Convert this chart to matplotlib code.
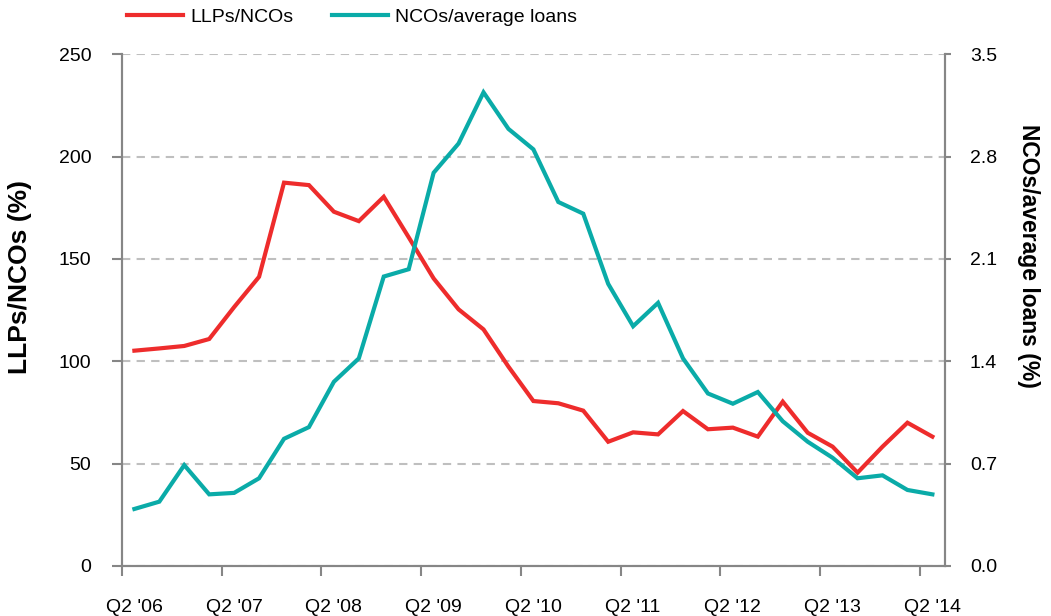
import numpy as np
import matplotlib.pyplot as plt

plt.rcParams["font.family"] = ["Liberation Sans", "DejaVu Sans"]

# quarterly, Q2 '06 .. Q2 '14 (33 quarters)
year_labels = ["Q2 '06", "Q2 '07", "Q2 '08", "Q2 '09", "Q2 '10",
               "Q2 '11", "Q2 '12", "Q2 '13", "Q2 '14"]

llps_ncos = [105.2, 106.3, 107.5, 110.9, 126.5, 141.3, 187.3, 186.1, 173.1, 168.5,
             180.4, 160.6, 140.5, 125.4, 115.6, 97.4, 80.6, 79.5, 75.9, 60.7,
             65.3, 64.3, 75.7, 66.8, 67.6, 63.2, 80.3, 65.1, 58.3, 45.6,
             58.3, 70.0, 63.2]

ncos_avg_loans = [0.39, 0.44, 0.69, 0.49, 0.50, 0.60, 0.87, 0.95, 1.26, 1.42,
                  1.98, 2.03, 2.69, 2.89, 3.24, 2.99, 2.85, 2.49, 2.41, 1.93,
                  1.64, 1.80, 1.42, 1.18, 1.11, 1.19, 0.99, 0.85, 0.74, 0.60,
                  0.62, 0.52, 0.49]

RED = "#EE2C2C"
TEAL = "#0AABA8"
SPINE = "#868686"

x = np.arange(len(llps_ncos))

fig = plt.figure(figsize=(10.51, 6.16), dpi=100)
ax = fig.add_axes([0.116, 0.0812, 0.783, 0.8306])
ax2 = ax.twinx()

l1, = ax.plot(x, llps_ncos, color=RED, lw=3, solid_joinstyle="miter", label="LLPs/NCOs", zorder=3)
l2, = ax2.plot(x, ncos_avg_loans, color=TEAL, lw=3, solid_joinstyle="miter", label="NCOs/average loans", zorder=2)

ax.set_xlim(-0.5, len(x) - 0.5)
ax.set_ylim(0, 250)
ax.set_yticks(np.arange(0, 251, 50))
ax2.set_ylim(0, 3.5)
ax2.set_yticks(np.arange(0, 3.51, 0.7))
ax2.set_yticklabels([f"{v:.1f}" for v in np.arange(0, 3.51, 0.7)])

# tick marks between categories, labels on the Q2 categories
ax.set_xticks(np.arange(-0.5, len(x) - 1, 4))
ax.set_xticklabels([])
ax.set_xticks(np.arange(0, len(x), 4), minor=True)
ax.set_xticklabels(year_labels, minor=True)
ax.tick_params(axis="x", which="major", direction="out", length=7, width=1.5, color=SPINE)
ax.tick_params(axis="x", which="minor", length=0, pad=24, labelsize=14)

ax.yaxis.grid(True, color="#BFBFBF", linestyle=(0, (4, 3)), linewidth=1.5)
ax.set_axisbelow(True)
ax.tick_params(axis="y", direction="out", length=7, width=1.5, color=SPINE, labelsize=14, pad=15)
ax2.tick_params(axis="y", direction="out", length=4, width=1.5, color=SPINE, labelsize=14, pad=14)

for a in (ax, ax2):
    a.spines["top"].set_visible(False)
    for s in ("left", "right", "bottom"):
        a.spines[s].set_color(SPINE)
        a.spines[s].set_linewidth(1.5)

fig.text(0.019, 0.550, "LLPs/NCOs (%)", fontsize=19, fontweight="bold",
         rotation=90, ha="center", va="center")
fig.text(0.979, 0.584, "NCOs/average loans (%)", fontsize=16.5, fontweight="bold",
         rotation=270, ha="center", va="center")

fig.legend(handles=[l1, l2], loc="upper left", bbox_to_anchor=(0.104, 1.015), ncol=2,
           frameon=False, fontsize=14, handlelength=2.9, handletextpad=0.35,
           columnspacing=2.0)

fig.savefig("out.png", dpi=100)
